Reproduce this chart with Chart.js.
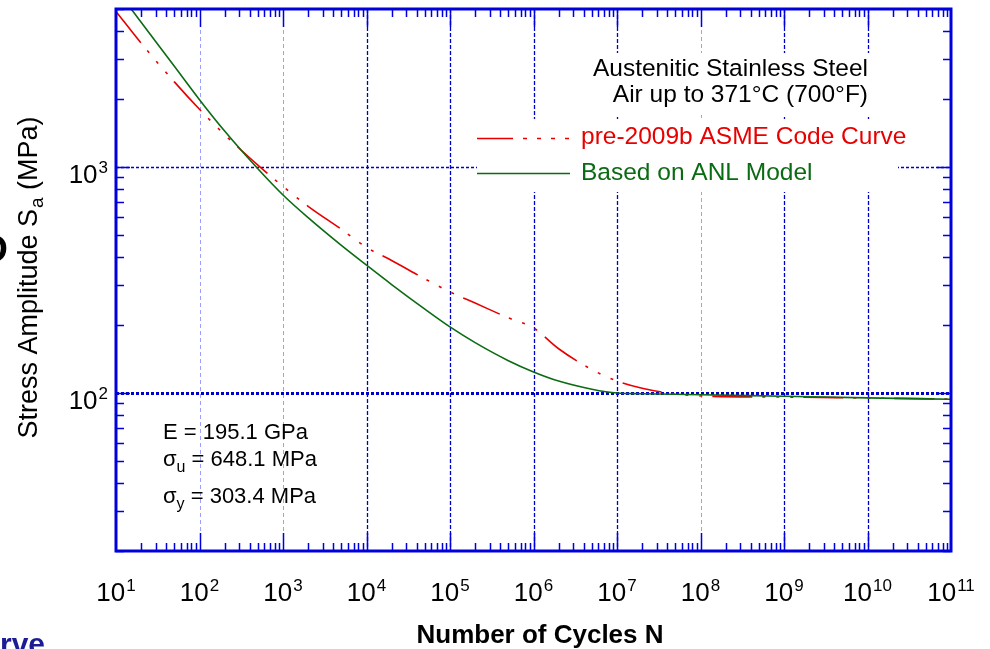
<!DOCTYPE html>
<html>
<head>
<meta charset="utf-8">
<script src="https://cdn.jsdelivr.net/npm/chart.js@4.4.1/dist/chart.umd.min.js"></script>
<style>
  html, body { margin: 0; padding: 0; background: #fff; }
</style>
</head>
<body>
<canvas id="myChart" width="990" height="649"></canvas>
<script>
// data (MPa vs cycles)
const cycles = [10, 20, 50, 100, 200, 500, 1e3, 2e3, 5e3, 1e4, 2e4, 5e4, 1e5, 2e5, 5e5, 1e6, 2e6, 5e6, 1e7, 2e7, 5e7, 1e8, 1e9, 1e10, 1e11]
const asmeStress = [4880, 3530, 2380, 1800, 1390, 1020, 820, 670, 530, 441, 386, 320, 280, 250, 215, 194, 157, 127, 113, 105, 99, 97, 96, 95, 94]
const anlStress = [6140, 4370, 2790, 1986, 1442, 982, 752, 597, 450, 368, 302, 235, 196, 167, 139, 124, 113, 104, 100, 99.3, 98.7, 98.3, 96.7, 95.2, 93.8]
const xTickExps = [1, 2, 3, 4, 5, 6, 7, 8, 9, 10, 11]
const yTickExps = [2, 3]

const BLUE = "#0000dd"
const RED = "#e80000"
const GREEN = "#0b6b12"
const FONT = "'Liberation Sans', Arial, sans-serif"

const toPoints = (ys) => cycles.map((n, i) => ({ x: n, y: ys[i] }))

function drawPow(ctx, exp, x, y, size, align) {
  const small = Math.round(size * 0.66)
  ctx.font = size + "px " + FONT
  const wBase = ctx.measureText("10").width
  ctx.font = small + "px " + FONT
  const wExp = ctx.measureText(String(exp)).width
  const total = wBase + wExp + 1
  let left = x
  if (align === "center") left = x - total / 2
  if (align === "right") left = x - total
  ctx.textAlign = "left"
  ctx.font = size + "px " + FONT
  ctx.fillText("10", left, y)
  ctx.font = small + "px " + FONT
  ctx.fillText(String(exp), left + wBase + 1, y - size * 0.37)
}

const decorPlugin = {
  id: "decor",
  beforeDatasetsDraw(chart) {
    const { ctx, chartArea: a, scales: { x, y } } = chart
    ctx.save()
    // vertical decade grid lines
    for (let e = 2; e <= 10; e++) {
      const px = Math.round(x.getPixelForValue(Math.pow(10, e))) + 0.5
      const light = (e === 2 || e === 3 || e === 8)
      ctx.strokeStyle = light ? "#9aa0ff" : "#0000cc"
      ctx.lineWidth = light ? 1 : 1.3
      ctx.setLineDash(light ? [4, 3] : [4, 2])
      ctx.beginPath()
      ctx.moveTo(px, a.top)
      ctx.lineTo(px, a.bottom)
      ctx.stroke()
    }
    // horizontal decade grid lines
    yTickExps.forEach((e) => {
      const py = Math.round(y.getPixelForValue(Math.pow(10, e))) + 0.5
      ctx.strokeStyle = "#0000cc"
      ctx.lineWidth = e === 2 ? 3 : 1.5
      ctx.setLineDash([3, 2])
      ctx.beginPath()
      ctx.moveTo(a.left, py)
      ctx.lineTo(a.right, py)
      ctx.stroke()
    })
    ctx.setLineDash([])
    // white boxes behind the title and legend
    ctx.fillStyle = "#fff"
    ctx.fillRect(580, 53, 300, 62)
    ctx.fillRect(477, 119, 421, 73)
    ctx.restore()
  },
  afterDatasetsDraw(chart) {
    const { ctx, chartArea: a, scales: { x, y } } = chart
    ctx.save()
    ctx.strokeStyle = BLUE
    ctx.lineWidth = 1.5
    ctx.beginPath()
    // x ticks, bottom and top, pointing inward
    for (let e = 1; e <= 10; e++) {
      for (let m = 1; m <= 9; m++) {
        if (m === 1 && e === 1) continue
        const px = Math.round(x.getPixelForValue(m * Math.pow(10, e))) + 0.5
        const len = m === 1 ? 18 : 8
        ctx.moveTo(px, a.bottom); ctx.lineTo(px, a.bottom - len)
        ctx.moveTo(px, a.top); ctx.lineTo(px, a.top + len)
      }
    }
    // y ticks, left and right
    for (let e = 1; e <= 3; e++) {
      for (let m = 1; m <= 9; m++) {
        const v = m * Math.pow(10, e)
        if (v < 20 || v > 5000) continue
        const py = Math.round(y.getPixelForValue(v)) + 0.5
        const len = m === 1 ? 14 : 8
        ctx.moveTo(a.left, py); ctx.lineTo(a.left + len, py)
        ctx.moveTo(a.right, py); ctx.lineTo(a.right - len, py)
      }
    }
    ctx.stroke()
    // frame
    ctx.lineWidth = 3
    ctx.strokeRect(a.left, a.top, a.right - a.left, a.bottom - a.top)

    // legend samples
    ctx.lineWidth = 1.5
    ctx.strokeStyle = RED
    ctx.setLineDash([36, 10, 4, 10, 4, 10, 4, 10, 4])
    ctx.beginPath(); ctx.moveTo(477, 138.5); ctx.lineTo(570, 138.5); ctx.stroke()
    ctx.setLineDash([])
    ctx.strokeStyle = GREEN
    ctx.beginPath(); ctx.moveTo(477, 173.5); ctx.lineTo(570, 173.5); ctx.stroke()
    ctx.restore()
  },
  afterDraw(chart) {
    const { ctx, scales: { x, y } } = chart
    ctx.save()
    ctx.fillStyle = "#000"
    ctx.textBaseline = "alphabetic"
    // tick labels
    xTickExps.forEach((e) => {
      drawPow(ctx, e, x.getPixelForValue(Math.pow(10, e)), 601, 26, "center")
    })
    yTickExps.forEach((e) => {
      drawPow(ctx, e, 108, y.getPixelForValue(Math.pow(10, e)) + 16, 26, "right")
    })
    // axis titles
    ctx.font = "bold 26px " + FONT
    ctx.textAlign = "center"
    ctx.fillText("Number of Cycles N", 540, 643)

    ctx.save()
    ctx.translate(37, 278)
    ctx.rotate(-Math.PI / 2)
    ctx.font = "27px " + FONT
    const p1 = "Stress Amplitude S", p3 = " (MPa)"
    const w1 = ctx.measureText(p1).width
    const w3 = ctx.measureText(p3).width
    ctx.font = "19px " + FONT
    const w2 = ctx.measureText("a").width
    const sx = -(w1 + w2 + w3) / 2
    ctx.textAlign = "left"
    ctx.font = "27px " + FONT
    ctx.fillText(p1, sx, 0)
    ctx.font = "19px " + FONT
    ctx.fillText("a", sx + w1 + 1, 6)
    ctx.font = "27px " + FONT
    ctx.fillText(p3, sx + w1 + w2 + 1, 0)
    ctx.restore()

    // title
    ctx.font = "24.5px " + FONT
    ctx.textAlign = "right"
    ctx.fillText("Austenitic Stainless Steel", 868, 76)
    ctx.fillText("Air up to 371°C (700°F)", 868, 102)
    // legend text
    ctx.textAlign = "left"
    ctx.fillStyle = RED
    ctx.fillText("pre-2009b ASME Code Curve", 581, 144)
    ctx.fillStyle = GREEN
    ctx.fillText("Based on ANL Model", 581, 180)

    // material data
    ctx.fillStyle = "#000"
    ctx.font = "22px " + FONT
    ctx.fillText("E = 195.1 GPa", 163, 439)
    const sub = (sym, s, rest, yy, dy) => {
      ctx.font = "22px " + FONT
      ctx.fillText(sym, 163, yy)
      const w = ctx.measureText(sym).width
      ctx.font = "16px " + FONT
      ctx.fillText(s, 163 + w, yy + dy)
      const ws = ctx.measureText(s).width
      ctx.font = "22px " + FONT
      ctx.fillText(rest, 163 + w + ws, yy)
    }
    sub("σ", "u", " = 648.1 MPa", 466, 6)
    sub("σ", "y", " = 303.4 MPa", 503, 6)

    // fragments of surrounding slide text
    ctx.font = "bold 38px " + FONT
    ctx.textAlign = "right"
    ctx.fillText("D", 8, 262)
    ctx.fillStyle = "#1c1c94"
    ctx.font = "bold 30px " + FONT
    ctx.fillText("Curve", 45, 654)
    ctx.restore()
  }
}

const config = {
  type: "line",
  data: {
    datasets: [
      {
        label: "Based on ANL Model",
        data: toPoints(anlStress),
        borderColor: GREEN,
        borderWidth: 1.6,
        pointRadius: 0,
        cubicInterpolationMode: "monotone",
        order: 0,
      },
      {
        label: "pre-2009b ASME Code Curve",
        data: toPoints(asmeStress),
        borderColor: RED,
        borderWidth: 1.6,
        borderDash: [40, 10, 3, 11, 3, 11, 3, 10],
        pointRadius: 0,
        cubicInterpolationMode: "monotone",
        order: 1,
      },
    ],
  },
  options: {
    responsive: false,
    animation: false,
    devicePixelRatio: 1,
    layout: { padding: { left: 116, right: 39, top: 9, bottom: 98 } },
    plugins: { legend: { display: false }, tooltip: { enabled: false } },
    scales: {
      x: { type: "logarithmic", min: 10, max: 1e11, display: false },
      y: { type: "logarithmic", min: 20, max: 5000, display: false },
    },
  },
  plugins: [decorPlugin],
}

const fatigueChart = new Chart(document.getElementById("myChart"), config)
</script>
</body>
</html>
